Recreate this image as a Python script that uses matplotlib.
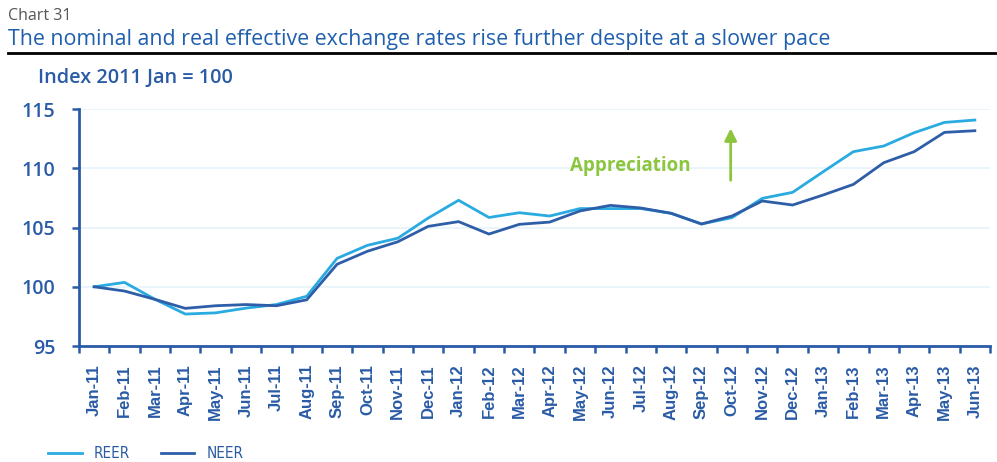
import matplotlib.pyplot as plt
import numpy as np

months = ['Jan-11', 'Feb-11', 'Mar-11', 'Apr-11', 'May-11', 'Jun-11', 'Jul-11',
          'Aug-11', 'Sep-11', 'Oct-11', 'Nov-11', 'Dec-11', 'Jan-12', 'Feb-12',
          'Mar-12', 'Apr-12', 'May-12', 'Jun-12', 'Jul-12', 'Aug-12', 'Sep-12',
          'Oct-12', 'Nov-12', 'Dec-12', 'Jan-13', 'Feb-13', 'Mar-13', 'Apr-13',
          'May-13', 'Jun-13']
reer = [100.0, 100.37, 98.95, 97.7, 97.8, 98.2, 98.5, 99.2, 102.4, 103.5,
        104.1, 105.8, 107.3, 105.85, 106.25, 105.97, 106.6, 106.6, 106.6, 106.2,
        105.3, 105.83, 107.46, 107.97, 109.7, 111.4, 111.88, 113.0, 113.87, 114.07]
neer = [100.0, 99.64, 98.94, 98.18, 98.4, 98.5, 98.4, 98.9, 101.9, 103.0,
        103.8, 105.1, 105.5, 104.45, 105.27, 105.46, 106.4, 106.87, 106.65, 106.2,
        105.3, 105.97, 107.24, 106.9, 107.74, 108.64, 110.47, 111.4, 113.03, 113.17]
yticks = [95, 100, 105, 110, 115]

light = '#29abe2'
dark = '#2e5ea8'
axcol = '#2a5ba6'
green = '#8cc63f'

plt.rcParams['font.family'] = ['Open Sans', 'DejaVu Sans']

fig = plt.figure(figsize=(9.97, 4.62), dpi=100)
ax = fig.add_axes([0.0792, 0.251, 0.9138, 0.513])

x = np.arange(len(months))
ax.plot(x, reer, color=light, lw=2, label='REER', zorder=3)
ax.plot(x, neer, color=dark, lw=2, label='NEER', zorder=3)

ax.set_xlim(-0.5, len(months) - 0.5)
ax.set_ylim(95, 115)
ax.set_yticks(yticks)
ax.set_yticklabels([str(v) for v in yticks], color=axcol, fontsize=14,
                   fontweight='semibold')
ax.grid(axis='y', color='#e6f3fb', lw=1.2, zorder=0)

ax.set_xticks(x)
ax.set_xticklabels(months, rotation=90, color=axcol, fontsize=12,
                   fontweight='bold', family='Liberation Sans')
ax.set_xticks(np.arange(len(months) + 1) - 0.5, minor=True)
ax.tick_params(axis='x', which='major', length=0, pad=13)
ax.tick_params(axis='x', which='minor', length=5, width=1.8, color=axcol)
ax.tick_params(axis='y', length=5, width=1.8, color=axcol, pad=12)

for s in ['top', 'right']:
    ax.spines[s].set_visible(False)
for s in ['left', 'bottom']:
    ax.spines[s].set_color(axcol)
    ax.spines[s].set_linewidth(2)

ax.annotate('', xy=(20.96, 113.6), xytext=(20.96, 108.75),
            arrowprops=dict(arrowstyle='-|>', color=green, lw=2,
                            mutation_scale=18))
ax.text(17.66, 110.2, 'Appreciation', color=green, fontsize=13.5,
        fontweight='bold', ha='center', va='center')

fig.text(0.008, 0.965, 'Chart 31', color='#555555', fontsize=11.5,
         ha='left', va='center')
fig.text(0.008, 0.915, 'The nominal and real effective exchange rates rise further despite at a slower pace',
         color='#1f5fae', fontsize=15.4, ha='left', va='center')
fig.add_artist(plt.Line2D([0.008, 1.0], [0.885, 0.885], color='black', lw=2,
                          transform=fig.transFigure))
fig.text(0.038, 0.831, 'Index 2011 Jan = 100', color=axcol, fontsize=14.3,
         fontweight='semibold', ha='left', va='center')

fig.legend(loc='center left', bbox_to_anchor=(0.045, 0.018), ncol=2,
           frameon=False, handlelength=2.2, columnspacing=2.0,
           prop={'family': 'DejaVu Sans', 'stretch': 'condensed', 'size': 11},
           labelcolor=axcol, borderaxespad=0, borderpad=0.2)

fig.savefig('out.png', dpi=100)
